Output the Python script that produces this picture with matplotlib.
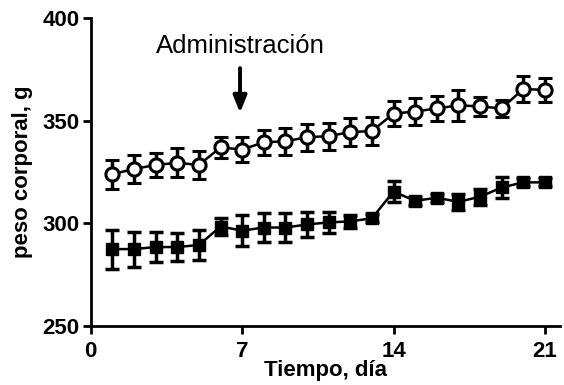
import numpy as np
import matplotlib
matplotlib.use('Agg')
import matplotlib.pyplot as plt

plt.rcParams['font.family'] = ['Liberation Sans', 'DejaVu Sans']

# dias de medicion
dias = np.arange(1, 22)

# grupo circulo abierto
peso_a = [324, 326.5, 328.5, 329.5, 328.5, 337, 336, 339.5, 340, 342, 342.5,
          344.5, 345, 353.5, 354.5, 356, 357.5, 357, 356, 365.5, 365]
sem_a = [7, 7, 6, 7, 7, 5, 6, 6, 6.5, 6.5, 6.5, 7, 7, 6, 6.5, 6, 7.5, 4.5, 4, 6.5, 6]

# grupo cuadrado negro
peso_b = [287.5, 287.5, 288.5, 288.5, 289.5, 298.5, 296.5, 298, 298, 299.5, 300.5,
          301, 302.5, 315.5, 311, 312.5, 310.5, 313, 317.5, 320, 320]
sem_b = [9.5, 8.5, 7.5, 7, 7.5, 4, 7.5, 7, 7, 6, 5, 3, 2, 5, 2, 2, 4, 4, 5, 2, 2]

xticks = [0, 7, 14, 21]
yticks = [250, 300, 350, 400]

fig = plt.figure(figsize=(5.64, 3.85), dpi=100)
ax = fig.add_axes([0.161, 0.153, 0.832, 0.8])

ax.errorbar(dias, peso_b, yerr=sem_b, color='black', marker='s', markersize=9,
            markerfacecolor='black', markeredgecolor='black', linewidth=1.8,
            elinewidth=2.5, capsize=4.7, capthick=2.5, zorder=3)
ax.errorbar(dias, peso_a, yerr=sem_a, color='black', marker='o', markersize=9.5,
            markerfacecolor='white', markeredgecolor='black', markeredgewidth=2.2,
            linewidth=1.8, elinewidth=2.5, capsize=4.7, capthick=2.5, zorder=3)

# flecha del dia de administracion
ax.annotate('', xy=(6.9, 352.5), xytext=(6.9, 377),
            arrowprops=dict(arrowstyle='-|>,head_width=0.4,head_length=1.0',
                            color='black', lw=2.8))
ax.text(6.9, 383, 'Administración', ha='center', va='baseline', fontsize=18.5)

ax.set_xlim(0, 21.7)
ax.set_ylim(250, 400)
ax.set_xticks(xticks)
ax.set_yticks(yticks)
ax.spines['top'].set_visible(False)
ax.spines['right'].set_visible(False)
for s in ['left', 'bottom']:
    ax.spines[s].set_linewidth(2)
ax.tick_params(direction='out', length=6, width=2, labelsize=16, pad=2)
ax.tick_params(axis='x', pad=5)
for lab in ax.get_xticklabels() + ax.get_yticklabels():
    lab.set_fontweight('bold')

ax.set_xlabel('Tiempo, día', fontsize=16, fontweight='bold', labelpad=-2)
ax.set_ylabel('peso corporal, g', fontsize=16, fontweight='bold', labelpad=7)

fig.savefig('out.png', dpi=100)
